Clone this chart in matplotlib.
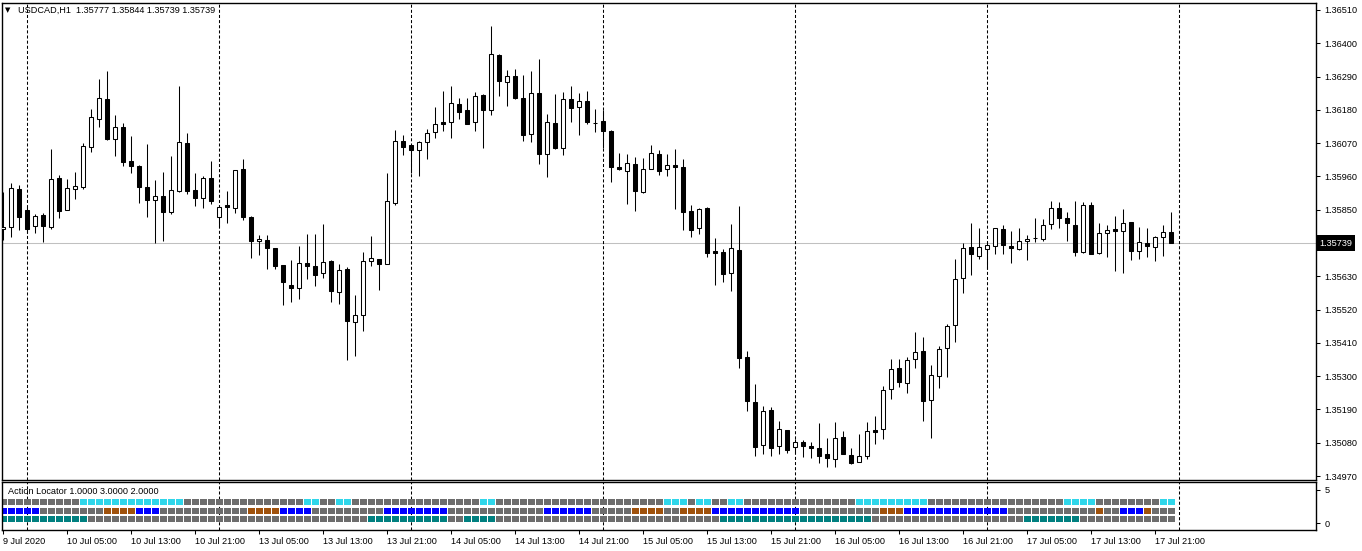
import matplotlib.pyplot as plt
from matplotlib.transforms import blended_transform_factory
import numpy as np
import pandas as pd

plt.rcParams['font.family'] = ['Liberation Sans', 'DejaVu Sans']
plt.rcParams['lines.scale_dashes'] = False

symbol = "USDCAD,H1"

# hourly bars, 9 Jul 2020 21:00 .. 17 Jul 2020 23:00 (weekend skipped)
days = ["2020-07-09", "2020-07-10", "2020-07-13", "2020-07-14",
        "2020-07-15", "2020-07-16", "2020-07-17"]
first_hour = 21

opens = [
    1.35785, 1.35794, 1.35918, 1.35848, 1.35795, 1.35832, 1.35794, 1.35954, 1.35850, 1.35918,
    1.35926, 1.36058, 1.36151, 1.36215, 1.36085, 1.36122, 1.36011, 1.35995, 1.35924, 1.35881,
    1.35894, 1.35842, 1.35912, 1.36070, 1.35914, 1.35888, 1.35954, 1.35827, 1.35865, 1.35855,
    1.35984, 1.35826, 1.35746, 1.35750, 1.35723, 1.35667, 1.35601, 1.35592, 1.35673, 1.35663,
    1.35640, 1.35681, 1.35579, 1.35654, 1.35480, 1.35503, 1.35680, 1.35686, 1.35672, 1.35873,
    1.36076, 1.36063, 1.36046, 1.36075, 1.36106, 1.36140, 1.36141, 1.36198, 1.36179, 1.36139,
    1.36228, 1.36179, 1.36361, 1.36271, 1.36291, 1.36218, 1.36099, 1.36235, 1.36035, 1.36136,
    1.36053, 1.36215, 1.36189, 1.36209, 1.36136, 1.36143, 1.36110, 1.35990, 1.35979, 1.36001,
    1.35910, 1.35986, 1.36033, 1.35984, 1.35997, 1.35990, 1.35845, 1.35789, 1.35855, 1.35713,
    1.35709, 1.35640, 1.35716, 1.35362, 1.35214, 1.35071, 1.35187, 1.35069, 1.35121, 1.35067,
    1.35082, 1.35069, 1.35063, 1.35043, 1.35028, 1.35099, 1.35038, 1.35017, 1.35037, 1.35122,
    1.35127, 1.35257, 1.35326, 1.35276, 1.35356, 1.35382, 1.35220, 1.35300, 1.35392, 1.35468,
    1.35623, 1.35726, 1.35698, 1.35719, 1.35729, 1.35785, 1.35730, 1.35719, 1.35746, 1.35756,
    1.35752, 1.35803, 1.35855, 1.35822, 1.35799, 1.35709, 1.35865, 1.35706, 1.35772, 1.35785,
    1.35779, 1.35808, 1.35715, 1.35739, 1.35726, 1.35759, 1.35777]
highs = [
    1.35910, 1.35937, 1.35932, 1.35859, 1.35836, 1.35838, 1.36051, 1.35964, 1.35951, 1.35975,
    1.36071, 1.36182, 1.36282, 1.36309, 1.36162, 1.36136, 1.36094, 1.35998, 1.36067, 1.35948,
    1.35975, 1.36028, 1.36259, 1.36104, 1.35971, 1.35962, 1.36011, 1.35866, 1.35912, 1.35982,
    1.36018, 1.35828, 1.35767, 1.35767, 1.35725, 1.35668, 1.35684, 1.35730, 1.35770, 1.35770,
    1.35803, 1.35683, 1.35670, 1.35661, 1.35568, 1.35710, 1.35763, 1.35688, 1.35971, 1.36114,
    1.36097, 1.36065, 1.36077, 1.36117, 1.36189, 1.36243, 1.36259, 1.36218, 1.36218, 1.36240,
    1.36233, 1.36457, 1.36364, 1.36312, 1.36315, 1.36295, 1.36309, 1.36348, 1.36165, 1.36233,
    1.36239, 1.36259, 1.36236, 1.36243, 1.36183, 1.36180, 1.36112, 1.36037, 1.36033, 1.36023,
    1.36020, 1.36064, 1.36047, 1.36033, 1.36050, 1.36017, 1.35865, 1.35857, 1.35860, 1.35757,
    1.35719, 1.35803, 1.35862, 1.35384, 1.35274, 1.35201, 1.35197, 1.35152, 1.35123, 1.35091,
    1.35089, 1.35083, 1.35146, 1.35097, 1.35147, 1.35119, 1.35062, 1.35109, 1.35148, 1.35168,
    1.35267, 1.35357, 1.35357, 1.35364, 1.35446, 1.35429, 1.35337, 1.35400, 1.35472, 1.35687,
    1.35740, 1.35807, 1.35789, 1.35743, 1.35791, 1.35799, 1.35780, 1.35789, 1.35767, 1.35823,
    1.35819, 1.35879, 1.35876, 1.35842, 1.35879, 1.35876, 1.35876, 1.35806, 1.35799, 1.35828,
    1.35851, 1.35810, 1.35792, 1.35789, 1.35762, 1.35799, 1.35844]
lows = [
    1.35750, 1.35761, 1.35783, 1.35772, 1.35772, 1.35744, 1.35786, 1.35824, 1.35848, 1.35886,
    1.35920, 1.36042, 1.36124, 1.36080, 1.36028, 1.35996, 1.35972, 1.35873, 1.35827, 1.35741,
    1.35748, 1.35836, 1.35910, 1.35901, 1.35863, 1.35857, 1.35868, 1.35794, 1.35807, 1.35840,
    1.35817, 1.35691, 1.35700, 1.35654, 1.35654, 1.35535, 1.35546, 1.35555, 1.35621, 1.35599,
    1.35625, 1.35546, 1.35539, 1.35353, 1.35367, 1.35450, 1.35664, 1.35585, 1.35670, 1.35866,
    1.36031, 1.35972, 1.35962, 1.36019, 1.36088, 1.36110, 1.36088, 1.36151, 1.36132, 1.36110,
    1.36055, 1.36163, 1.36227, 1.36193, 1.36216, 1.36078, 1.36075, 1.36002, 1.35959, 1.36052,
    1.36032, 1.36139, 1.36098, 1.36132, 1.36108, 1.36053, 1.35943, 1.35982, 1.35869, 1.35847,
    1.35906, 1.35984, 1.35966, 1.35962, 1.35852, 1.35783, 1.35761, 1.35770, 1.35695, 1.35601,
    1.35612, 1.35582, 1.35326, 1.35186, 1.35036, 1.35043, 1.35036, 1.35042, 1.35047, 1.35047,
    1.35034, 1.35030, 1.35012, 1.35001, 1.35001, 1.35042, 1.35009, 1.35015, 1.35026, 1.35075,
    1.35091, 1.35225, 1.35263, 1.35245, 1.35328, 1.35153, 1.35097, 1.35262, 1.35298, 1.35414,
    1.35576, 1.35635, 1.35687, 1.35653, 1.35703, 1.35703, 1.35675, 1.35716, 1.35683, 1.35744,
    1.35745, 1.35785, 1.35789, 1.35745, 1.35698, 1.35707, 1.35703, 1.35703, 1.35694, 1.35649,
    1.35642, 1.35683, 1.35686, 1.35695, 1.35682, 1.35698, 1.35739]
closes = [
    1.35794, 1.35921, 1.35827, 1.35787, 1.35830, 1.35797, 1.35951, 1.35847, 1.35921, 1.35927,
    1.36060, 1.36155, 1.36218, 1.36085, 1.36122, 1.36009, 1.35996, 1.35926, 1.35883, 1.35894,
    1.35844, 1.35914, 1.36073, 1.35913, 1.35890, 1.35954, 1.35880, 1.35858, 1.35858, 1.35980,
    1.35827, 1.35748, 1.35753, 1.35724, 1.35665, 1.35612, 1.35592, 1.35673, 1.35665, 1.35635,
    1.35676, 1.35582, 1.35651, 1.35483, 1.35502, 1.35680, 1.35690, 1.35672, 1.35878, 1.36076,
    1.36058, 1.36048, 1.36073, 1.36103, 1.36134, 1.36134, 1.36202, 1.36174, 1.36134, 1.36225,
    1.36181, 1.36364, 1.36274, 1.36291, 1.36220, 1.36098, 1.36235, 1.36035, 1.36139, 1.36054,
    1.36215, 1.36187, 1.36209, 1.36139, 1.36138, 1.36111, 1.35992, 1.35983, 1.36003, 1.35913,
    1.35984, 1.36037, 1.35979, 1.35997, 1.35992, 1.35844, 1.35784, 1.35852, 1.35708, 1.35708,
    1.35637, 1.35723, 1.35359, 1.35219, 1.35067, 1.35184, 1.35064, 1.35124, 1.35056, 1.35083,
    1.35070, 1.35062, 1.35037, 1.35030, 1.35095, 1.35043, 1.35014, 1.35035, 1.35118, 1.35115,
    1.35254, 1.35323, 1.35280, 1.35352, 1.35379, 1.35219, 1.35303, 1.35389, 1.35466, 1.35620,
    1.35723, 1.35703, 1.35726, 1.35732, 1.35789, 1.35732, 1.35723, 1.35746, 1.35752, 1.35757,
    1.35799, 1.35855, 1.35822, 1.35805, 1.35709, 1.35865, 1.35705, 1.35772, 1.35782, 1.35779,
    1.35805, 1.35713, 1.35742, 1.35729, 1.35759, 1.35775, 1.35739]

# Action Locator signal rows (one letter per bar)
# G gray, C cyan, B blue, R brown, T teal
row_top = ("GGGGGGGGGG" "CCCCCCCCCCCCC" "GGGGGGGGGGGGGGG" "CC" "GG" "CC"
           "GGGGGGGGGGGGGGGG" "CC" "GGGGGGGGGGGGGGGGGGGGG" "CCC" "G" "CC" "GG" "CC"
           "GGGGGGGGGGGGGG" "CCCCCCCCC" "GGGGGGGGGGGGGGGGG" "CCCC" "GGGGGGGG" "CC")
row_mid = ("BBBBB" "GGGGGGGG" "RRRR" "BBB" "GGGGGGGGGGG" "RRRR" "BBBB" "GGGGGGGGG"
           "BBBBBBBB" "GGGGGGGGGGGG" "BBBBBB" "GGGGG" "RRRR" "GG" "RRRR" "BBBBBBBBBBB"
           "GGGGGGGGGG" "RRR" "BBBBBBBBBBBBB" "GGGGGGGGGGG" "R" "GG" "BBB" "R" "GGG")
row_bot = ("TTTTTTTTTTT" "GGGGGGGGGGGGGGGGGGGGGGGGGGGGGGGGGGG" "TTTTTTTTTT" "GG" "TTTT"
           "GGGGGGGGGGGGGGGGGGGGGGGGGGGG" "TTTTTTTTTTTTTTTTTTT" "GGGGGGGGGGGGGGGGGGG"
           "TTTTTTT" "GGGGGGGGGGGG")
signal_colors = {"G": "#6d6d6d", "C": "#2fd6ea", "B": "#0000ff",
                 "R": "#a0520c", "T": "#008080"}
indicator_name = "Action Locator 1.0000 3.0000 2.0000"

times = []
for d in days:
    start = first_hour if d == days[0] else 0
    times += list(pd.date_range(f"{d} {start:02d}:00", f"{d} 23:00", freq="h"))

o = np.array(opens)
h = np.array(highs)
l = np.array(lows)
c = np.array(closes)
x = np.arange(len(c))

W, H = 1362, 551
fig = plt.figure(figsize=(W / 100, H / 100), dpi=100)
ax = fig.add_axes([2 / W, (H - 480) / H, 1314 / W, 477 / H])
ax2 = fig.add_axes([2 / W, (H - 530) / H, 1314 / W, 48 / H])

lw = 0.75
up = c >= o
ax.vlines(x, l, h, color="black", lw=lw, zorder=2)
ax.bar(x, np.abs(c - o), bottom=np.minimum(o, c), width=0.55,
       color=np.where(up, "white", "black"), edgecolor="black", lw=lw, zorder=3)

ax.axhline(c[-1], color="#c0c0c0", lw=lw, zorder=1)

seps = [i for i, t in enumerate(times) if t.hour == 0] + [len(times)]
for a in (ax, ax2):
    for s in seps:
        a.axvline(s, color="black", lw=lw, dashes=(2.2, 1.5), zorder=1)

ax.set_xlim(-0.16, 164.09)
ax.set_ylim(1.34957, 1.36533)
yt = np.round(1.34970 + 0.0011 * np.arange(15), 5)
ax.set_yticks(yt)
# the last-price box hides the grid label that sits under it
ax.set_yticklabels(["" if abs(v - c[-1]) < 0.0002 else f"{v:.5f}" for v in yt])
ax.tick_params(axis="y", left=False, labelleft=False, right=True, labelright=True,
               length=3, width=lw, pad=3, labelsize=6.6)
ax.tick_params(axis="x", bottom=False, labelbottom=False)

tr = blended_transform_factory(ax.transAxes, ax.transData)
ax.text(1 + 3 / 1314, c[-1], f"{c[-1]:.5f}", transform=tr, color="white",
        fontsize=6.6, va="center", ha="left",
        bbox=dict(facecolor="black", edgecolor="none", pad=2.5))

# indicator pane
levels = [3.15, 1.85, 0.55]
for row, lev in zip([row_top, row_mid, row_bot], levels):
    ax2.bar(x, 0.9, bottom=lev - 0.45, width=0.86,
            color=[signal_colors[k] for k in row], lw=0)
ax2.set_xlim(ax.get_xlim())
ax2.set_ylim(-1.06, 6.21)
ax2.set_yticks([0, 5])
ax2.set_yticklabels(["0", "5"])
ax2.tick_params(axis="y", left=False, labelleft=False, right=True, labelright=True,
                length=3, width=lw, pad=3, labelsize=6.6)

xt = x[::8]
labels = [times[0].strftime("%-d %b %Y")] + \
         [times[i].strftime("%-d %b %H:%M") for i in xt[1:]]
ax2.set_xticks(xt)
ax2.set_xticklabels(labels, ha="left")
ax2.tick_params(axis="x", length=3, width=lw, pad=2, labelsize=6.6)

for a in (ax, ax2):
    for sp in a.spines.values():
        sp.set_linewidth(1)

fig.text(5 / W, 1 - 10 / H, "\u25bc", fontsize=5, va="center", ha="left",
         family="DejaVu Sans")
fig.text(18 / W, 1 - 10.5 / H,
         f"{symbol}  {o[-1]:.5f} {h[-1]:.5f} {l[-1]:.5f} {c[-1]:.5f}",
         fontsize=6.6, va="center", ha="left")
fig.text(8 / W, 1 - 491.5 / H, indicator_name, fontsize=6.6, va="center", ha="left")

fig.savefig("out.png", dpi=100, facecolor="white")
